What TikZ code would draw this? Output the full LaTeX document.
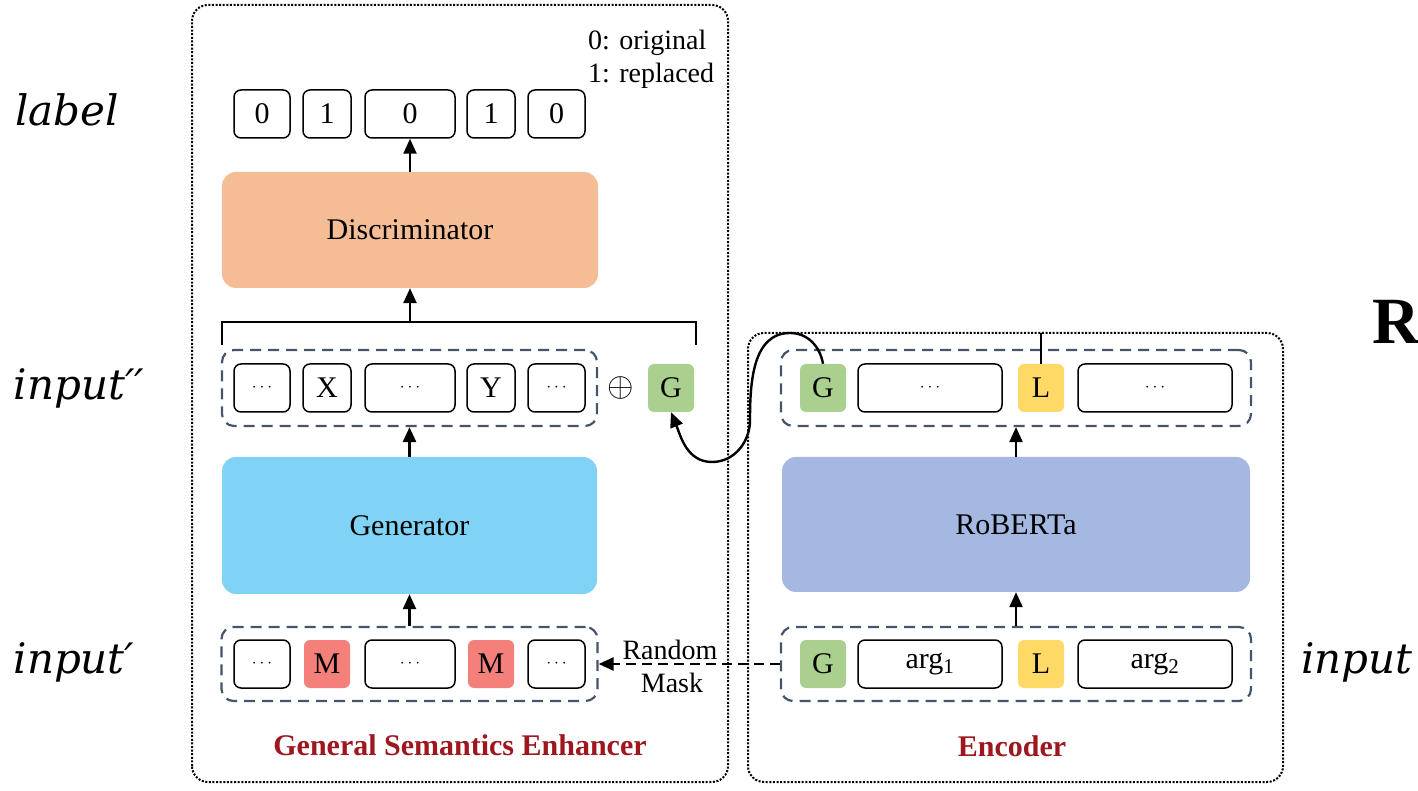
\documentclass[tikz,border=0pt]{standalone}
\usepackage{fontspec}
\setmainfont{Liberation Serif}
\newfontfamily\labfont{DejaVu Serif}
\usetikzlibrary{arrows.meta}
\definecolor{discfill}{RGB}{244,189,150}
\definecolor{genfill}{RGB}{128,211,245}
\definecolor{robfill}{RGB}{164,184,226}
\definecolor{gfill}{RGB}{169,208,142}
\definecolor{lfill}{RGB}{255,217,102}
\definecolor{mfill}{RGB}{244,128,122}
\definecolor{grpcol}{RGB}{68,84,106}
\definecolor{titlered}{RGB}{158,22,30}
\newcommand\tokdots{{\fontsize{18}{20}\selectfont$\cdots$}}
\tikzset{
  frame/.style={dash pattern=on 2pt off 1.6pt, line width=2pt, rounded corners=16pt},
  grp/.style={draw=grpcol, dash pattern=on 11pt off 7pt, line width=2.2pt, rounded corners=12pt, inner sep=0pt},
  tok/.style={draw, fill=white, line width=1.5pt, rounded corners=7pt, minimum height=48pt, inner sep=0pt, font=\fontsize{30}{36}\selectfont},
  ctok/.style={rounded corners=6pt, minimum height=48pt, minimum width=46pt, inner sep=0pt, font=\fontsize{30}{36}\selectfont},
  blk/.style={rounded corners=14pt, inner sep=0pt, font=\fontsize{30}{36}\selectfont},
  note/.style={inner sep=0pt, font=\fontsize{28}{32}\selectfont},
  title/.style={font=\bfseries\fontsize{30}{34}\selectfont, text=titlered},
  side/.style={font=\labfont\itshape\fontsize{42}{48}\selectfont},
  arr/.style={line width=2.4pt, -{Triangle[length=15pt,width=13pt]}}
}
\begin{document}
\begin{tikzpicture}[x=1pt,y=1pt]
\useasboundingbox (0,0) rectangle (1418,790);
% frames
\draw[frame] (192,8) rectangle (728,785);
\draw[frame] (748,8) rectangle (1283,457);

% label row
\node[tok, minimum width=56pt] (lab1) at (262,676) {0};
\node[tok, minimum width=48pt] (lab2) at (327,676) {1};
\node[tok, minimum width=90pt] (lab3) at (410,676) {0};
\node[tok, minimum width=48pt] (lab4) at (491,676) {1};
\node[tok, minimum width=57pt] (lab5) at (556.5,676) {0};
\node[note, anchor=west] (orig) at (588,747) {0: original};
\node[note, anchor=west] (repl) at (588,714) {1: replaced};

\node[blk, fill=discfill, minimum width=376pt, minimum height=116pt] (disc) at (410,560) {Discriminator};
\draw[arr] (disc.north) -- (lab3.south);

% input'' row
\coordinate (brL) at (222,445);
\coordinate (brR) at (696,445);
\coordinate (brM) at (410,468);
\draw[line width=1.5pt] (brL) |- (brR |- brM) -- (brR);
\draw[arr] (brM) -- (disc.south);
\node[grp, minimum width=375pt, minimum height=76pt] (rowB) at (409.5,402) {};
\node[tok, minimum width=56pt] (b1) at (262,402) {\tokdots};
\node[tok, minimum width=48pt] (b2) at (327,402) {X};
\node[tok, minimum width=90pt] (b3) at (410,402) {\tokdots};
\node[tok, minimum width=48pt] (b4) at (491,402) {Y};
\node[tok, minimum width=57pt] (b5) at (556.5,402) {\tokdots};
\node[scale=3.4, inner sep=0pt] (plus) at (621,402) {$\oplus$};
\node[ctok, fill=gfill] (gS) at (671,402) {G};

\node[blk, fill=genfill, minimum width=375pt, minimum height=137pt] (gen) at (409.5,264.5) {Generator};
\draw[arr] (gen.north) -- (rowB.south);

% input' row
\node[grp, minimum width=376pt, minimum height=74pt] (rowA) at (409.5,126) {};
\node[tok, minimum width=56pt] (a1) at (262,126) {\tokdots};
\node[ctok, fill=mfill] (a2) at (327,126) {M};
\node[tok, minimum width=90pt] (a3) at (410,126) {\tokdots};
\node[ctok, fill=mfill] (a4) at (491,126) {M};
\node[tok, minimum width=57pt] (a5) at (556.5,126) {\tokdots};
\draw[arr] (rowA.north) -- (gen.south);

% encoder
\node[grp, minimum width=470pt, minimum height=76pt] (rowE) at (1016,402) {};
\node[ctok, fill=gfill] (eG) at (823,402) {G};
\node[tok, minimum width=144pt] (e2) at (930,402) {\tokdots};
\node[ctok, fill=lfill] (eL) at (1041,402) {L};
\node[tok, minimum width=154pt] (e4) at (1155,402) {\tokdots};

\node[blk, fill=robfill, minimum width=468pt, minimum height=135pt] (rob) at (1016,265.5) {RoBERTa};
\draw[arr] (rob.north) -- (rowE.south);

\node[grp, minimum width=470pt, minimum height=74pt] (rowI) at (1016,126) {};
\node[ctok, fill=gfill] (iG) at (823,126) {G};
\node[tok, minimum width=144pt] (i2) at (930,126) {arg\textsubscript{1}};
\node[ctok, fill=lfill] (iL) at (1041,126) {L};
\node[tok, minimum width=154pt] (i4) at (1155,126) {arg\textsubscript{2}};
\draw[arr] (rowI.north) -- (rob.south);

% links
\coordinate (encTop) at (1041,457);
\draw[line width=1.5pt] (eL.north) -- (encTop);
\coordinate (c1) at (790,457);
\coordinate (c2) at (750,370);
\coordinate (c3) at (712,328);
\draw[arr] (eG.north) to[out=100,in=0] (c1) to[out=180,in=90] (c2) to[out=-90,in=0] (c3) to[out=180,in=-68] (gS.south);
\draw[arr, dash pattern=on 10pt off 6pt] (rowI.west) -- (rowA.east);
\node[note] (rnd) at (670,140) {Random};
\node[note] (msk) at (672,107) {Mask};

% titles and side labels
\node[title] (gseT) at (460,45) {General Semantics Enhancer};
\node[title] (encT) at (1012,44) {Encoder};
\node[side] (sLab) at (67,680) {label};
\node[side] (sIn2) at (79,402) {input\symbol{"2032}\symbol{"2032}};
\node[side] (sIn1) at (74,128) {input\symbol{"2032}};
\node[side] (sIn) at (1357,128) {input};
\node[font=\bfseries\fontsize{66}{70}\selectfont, inner sep=0pt, anchor=west] (cutR) at (1372,468) {R};
\end{tikzpicture}
\end{document}
